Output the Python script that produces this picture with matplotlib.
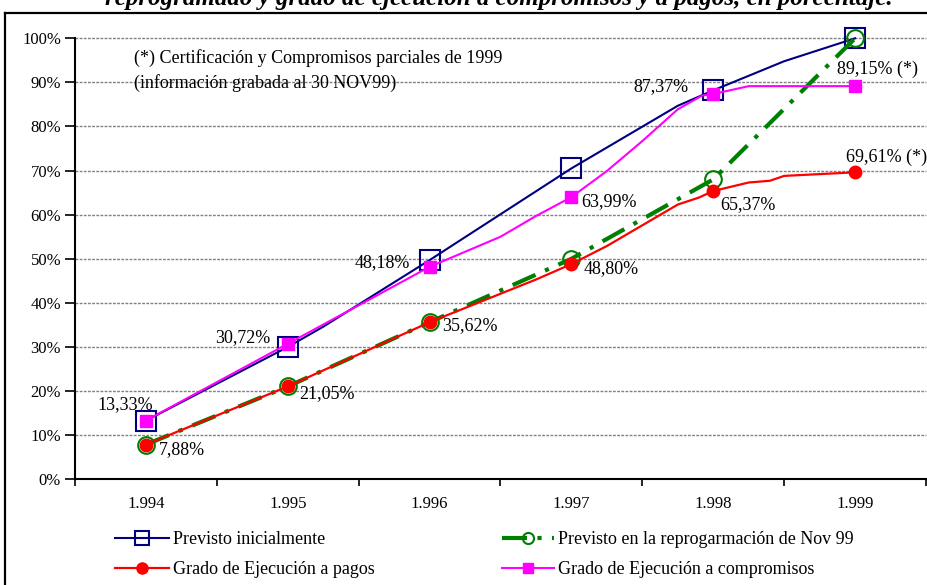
import matplotlib
matplotlib.use("Agg")
import matplotlib.pyplot as plt
from matplotlib.lines import Line2D
import numpy as np

plt.rcParams['font.family'] = ['Liberation Serif', 'DejaVu Serif']

# ---------------- data ----------------
categories = ['1.994', '1.995', '1.996', '1.997', '1.998', '1.999']
base_year = 1994

prev_ini_x = [1994, 1995, 1995.25, 1996, 1997, 1997.75, 1998, 1998.5, 1999]
prev_ini_y = [13.3, 30.0, 34.6, 49.7, 70.5, 84.7, 88.2, 94.8, 100.0]

reprog_x = [1994, 1995, 1996, 1997, 1998, 1999]
reprog_y = [7.88, 21.05, 35.62, 50.0, 68.0, 100.0]

pagos_x = [1994, 1995, 1996, 1996.75, 1997, 1997.25, 1997.75, 1997.9, 1998,
           1998.25, 1998.4, 1998.5, 1999]
pagos_y = [7.88, 21.05, 35.62, 45.3, 48.80, 52.9, 62.3, 63.9, 65.37,
           67.3, 67.7, 68.8, 69.61]

compr_x = [1994, 1995, 1996, 1996.5, 1996.75, 1997, 1997.25, 1997.5, 1997.75,
           1997.92, 1998, 1998.25, 1999]
compr_y = [13.33, 30.72, 48.18, 55.0, 59.7, 63.99, 69.9, 76.7, 83.9,
           87.0, 87.37, 89.15, 89.15]

yticks = list(range(0, 101, 10))

legend_labels = ['Previsto inicialmente', 'Grado de Ejecución a pagos',
                 'Previsto en la reprogarmación de Nov 99',
                 'Grado de Ejecución a compromisos']

title = 'reprogramado y grado de ejecución a compromisos y a pagos, en porcentaje.'
note1 = '(*) Certificación y Compromisos parciales de 1999'
note2 = '(información grabada al 30 NOV99)'

# ---------------- figure ----------------
W, H = 928, 585
fig = plt.figure(figsize=(W / 100, H / 100), dpi=100)

def fx(px):
    return px / W

def fy(py):
    return 1 - py / H

x0, x1 = 75, 926
y0, y1 = 479.3, 38.3
ax = fig.add_axes([fx(x0), fy(y0), fx(x1 - x0), (y0 - y1) / H])
ax.set_xlim(-0.5, 5.5)
ax.set_ylim(0, 100)

for s in ['top', 'right']:
    ax.spines[s].set_visible(False)
for s in ['left', 'bottom']:
    ax.spines[s].set_linewidth(1.5)
    ax.spines[s].set_color('black')
    ax.spines[s].set_zorder(6)

# gridlines
for v in yticks[1:]:
    ax.axhline(v, color='#808080', lw=1.0, ls=(0, (2, 1)), zorder=0, clip_on=False)

# ticks
ax.set_xticks(np.arange(-0.5, 6.0, 1.0))
ax.set_xticklabels([])
ax.set_xticks(np.arange(len(categories)), minor=True)
ax.set_xticklabels(categories, minor=True)
ax.tick_params(axis='x', which='major', direction='out', length=5, width=1.2)
ax.tick_params(axis='x', which='minor', length=0, pad=12, labelsize=12)
ax.set_yticks(yticks)
ax.set_yticklabels([f'{v}%' for v in yticks])
ax.tick_params(axis='y', direction='out', length=7, width=1.2, pad=3, labelsize=12)


def xs(arr):
    return [a - base_year for a in arr]


def yearly(arr):
    return [i for i, a in enumerate(arr) if float(a).is_integer()]


ax.plot(xs(prev_ini_x), prev_ini_y, color='#000080', lw=1.5,
        marker='s', ms=15, mfc='none', mec='#000080', mew=1.5,
        markevery=yearly(prev_ini_x), zorder=3, clip_on=False)
ax.plot(xs(reprog_x), reprog_y, color='#008000', lw=3.0,
        dashes=(6, 2.5, 1, 2.5), marker='o', ms=12, mfc='none', mec='#008000',
        mew=1.5, markevery=yearly(reprog_x), zorder=4, clip_on=False)
ax.plot(xs(pagos_x), pagos_y, color='#FF0000', lw=1.6,
        marker='o', ms=9, mfc='#FF0000', mec='#FF0000',
        markevery=yearly(pagos_x), zorder=5, clip_on=False)
ax.plot(xs(compr_x), compr_y, color='#FF00FF', lw=1.5,
        marker='s', ms=8, mfc='#FF00FF', mec='#FF00FF',
        markevery=yearly(compr_x), zorder=5.5, clip_on=False)


def fmt(v):
    return f'{v:.2f}'.replace('.', ',') + '%'


def val_at(xarr, yarr, year):
    return yarr[xarr.index(year)]

ann = [
    (compr_x, compr_y, 1994, '', (-21, 15.5), 'center'),
    (pagos_x, pagos_y, 1994, '', (36, -5), 'center'),
    (compr_x, compr_y, 1995, '', (-44.5, 6), 'center'),
    (pagos_x, pagos_y, 1995, '', (39, -7), 'center'),
    (compr_x, compr_y, 1996, '', (-47, 4), 'center'),
    (pagos_x, pagos_y, 1996, '', (40, -3), 'center'),
    (compr_x, compr_y, 1997, '', (38, -4), 'center'),
    (pagos_x, pagos_y, 1997, '', (40, -4.3), 'center'),
    (compr_x, compr_y, 1998, '', (-52, 7), 'center'),
    (pagos_x, pagos_y, 1998, '', (34.5, -13.7), 'center'),
    (compr_x, compr_y, 1999, ' (*)', (22, 17.3), 'center'),
    (pagos_x, pagos_y, 1999, ' (*)', (-9.3, 14.7), 'left'),
]
for xa, ya, yr, suf, off, ha in ann:
    v = val_at(xa, ya, yr)
    ax.annotate(fmt(v) + suf, (yr - base_year, v), xytext=off,
                textcoords='offset pixels', ha=ha, va='center',
                fontsize=13, color='black', zorder=7, annotation_clip=False)

# notes
fig.text(fx(134), fy(58), note1, ha='left', va='center', fontsize=13)
fig.text(fx(134), fy(83), note2, ha='left', va='center', fontsize=13)

# title (cropped at top, as in the reference)
fig.text(fx(499), fy(5), title, ha='center', va='baseline', fontsize=18,
         style='italic', weight='bold')

# outer frame (cropped)
fig.add_artist(Line2D([fx(5), fx(5)], [fy(13), 0], transform=fig.transFigure,
                      color='black', lw=1.6))
fig.add_artist(Line2D([fx(5), 1], [fy(13), fy(13)], transform=fig.transFigure,
                      color='black', lw=1.6))

# legend
h_blue = Line2D([], [], color='#000080', lw=1.5, marker='s', ms=10,
                mfc='none', mec='#000080', mew=1.5)
h_red = Line2D([], [], color='#FF0000', lw=1.6, marker='o', ms=8,
               mfc='#FF0000', mec='#FF0000')
h_green = Line2D([], [], color='#008000', lw=3.0, dashes=(6, 2.5, 1, 2.5),
                 marker='o', ms=8, mfc='none', mec='#008000', mew=1.5)
h_pink = Line2D([], [], color='#FF00FF', lw=1.5, marker='s', ms=7,
                mfc='#FF00FF', mec='#FF00FF')

common = dict(frameon=False, fontsize=13, borderpad=0, borderaxespad=0,
              handletextpad=0.2, labelspacing=0.72, loc='upper left')
fig.legend([h_blue, h_red], legend_labels[:2], handlelength=3.0,
           bbox_to_anchor=(fx(115), fy(531)), **common)
fig.legend([h_green, h_pink], legend_labels[2:], handlelength=2.9,
           bbox_to_anchor=(fx(502), fy(531)), **common)

fig.savefig('out.png', dpi=100)
